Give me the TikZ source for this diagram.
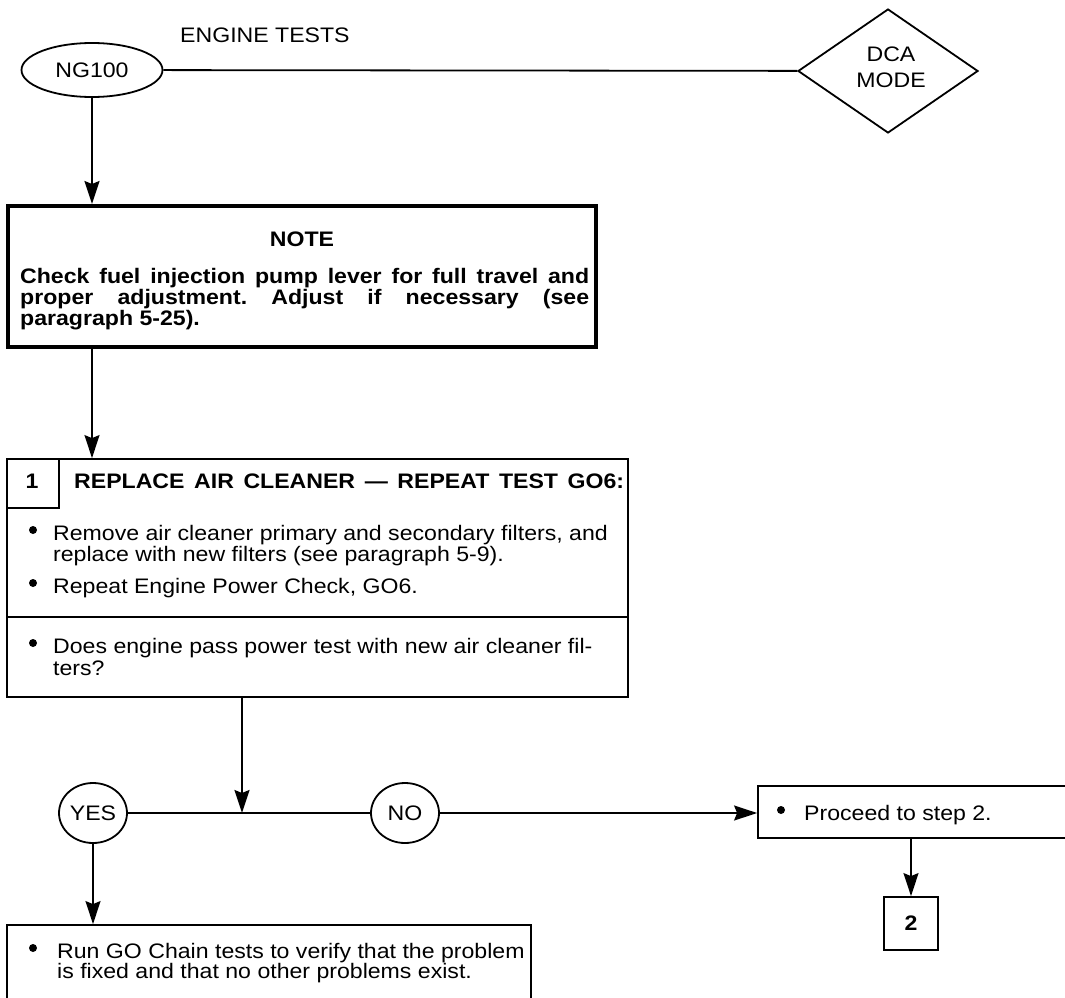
\documentclass[tikz,border=0pt]{standalone}
\usepackage{fontspec}
\setmainfont[FakeStretch=1.1]{Liberation Sans}
\usetikzlibrary{shapes.geometric,arrows.meta}
\frenchspacing
\begin{document}
\begin{tikzpicture}[x=1pt,y=-1pt,
  every node/.style={font=\fontsize{21}{25}\selectfont},
  ln/.style={line width=1.8pt},
  arr/.style={ln,-{Stealth[length=23pt,width=15pt,inset=3pt]}},
  txt/.style={anchor=base west,inner sep=0pt},
  btxt/.style={anchor=base west,inner sep=0pt,font=\fontsize{21}{25}\selectfont\bfseries},
  lbl/.style={anchor=base,inner sep=0pt},
  dot/.style={circle,fill,inner sep=0pt,minimum size=8pt},
  oval/.style={ellipse,draw,ln,inner sep=0pt},
  box/.style={draw,ln,inner sep=0pt}]
\useasboundingbox (0,0) rectangle (1065,998);
% top
\node[oval,minimum width=141pt,minimum height=54pt] (ng) at (92,70) {NG100};
\node[diamond,draw,ln,minimum width=180pt,minimum height=124pt,inner sep=0pt] (dca) at (888,71) {};
\node[lbl] (dca1) at (891,62) {DCA};
\node[lbl] (dca2) at (891,87) {MODE};
\node[txt] (et) at (180,43) {ENGINE TESTS};
\draw[ln] (ng) -- (dca);
% note
\node[draw,line width=4pt,minimum width=588pt,minimum height=141pt,inner sep=0pt] (note) at (302,276.5) {};
\node[lbl,font=\fontsize{21}{25}\selectfont\bfseries] (nt) at (302,246) {NOTE};
\node[btxt] (n1) at (20,283) {\makebox[569pt][s]{Check fuel injection pump lever for full travel and}};
\node[btxt] (n2) at (20,304) {\makebox[569pt][s]{proper adjustment. Adjust if necessary (see}};
\node[btxt] (n3) at (20,325) {paragraph 5-25).};
\draw[arr] (ng.south) -- (ng.south |- note.north);
% step 1 box
\node[box,minimum width=621pt,minimum height=238pt] (b1) at (317.5,578) {};
\node[box,minimum width=52pt,minimum height=49pt] (s1) at (33,483.5) {};
\node[lbl,font=\fontsize{21}{25}\selectfont\bfseries] (s1t) at (32,488) {1};
\coordinate (dl) at (7,617);
\coordinate (dr) at (628,617);
\draw[ln] (dl) -- (dr);
\node[btxt] (t1) at (74,488) {\makebox[550pt][s]{REPLACE AIR CLEANER — REPEAT TEST GO6:}};
\draw[arr] (note.south -| ng) -- (ng |- b1.north);
\node[dot] (u1) at (33,530) {};
\node[txt] (l1) at (53,540) {Remove air cleaner primary and secondary filters, and};
\node[txt] (l2) at (53,561) {replace with new filters (see paragraph 5-9).};
\node[dot] (u2) at (33,583) {};
\node[txt] (l3) at (53,593) {Repeat Engine Power Check, GO6.};
\node[dot] (u3) at (33,643) {};
\node[txt] (l4) at (53,653) {Does engine pass power test with new air cleaner fil-};
\node[txt] (l5) at (53,675) {ters?};
% decision
\node[oval,minimum width=68pt,minimum height=60pt] (yes) at (93,813) {YES};
\node[oval,minimum width=68pt,minimum height=60pt] (no) at (405,813) {NO};
\coordinate (j) at (242,813);
\draw[arr] (b1.south -| j) -- (j);
\draw[ln] (yes.east) -- (no.west);
\node[box,minimum width=317pt,minimum height=52pt] (pr) at (916.5,812) {};
\node[dot] (u4) at (781,810) {};
\node[txt] (p1) at (804,820) {Proceed to step 2.};
\draw[arr] (no.east) -- (no.east -| pr.west);
\node[box,minimum width=54pt,minimum height=53pt,font=\fontsize{21}{25}\selectfont\bfseries] (two) at (911,923.5) {2};
\draw[arr] (two.north |- pr.south) -- (two.north);
% bottom box
\node[box,minimum width=524pt,minimum height=85pt] (b2) at (269,967.5) {};
\draw[arr] (yes.south) -- (yes.south |- b2.north);
\node[dot] (u5) at (33,948) {};
\node[txt] (r1) at (57,958) {Run GO Chain tests to verify that the problem};
\node[txt] (r2) at (57,978) {is fixed and that no other problems exist.};
\end{tikzpicture}
\end{document}
